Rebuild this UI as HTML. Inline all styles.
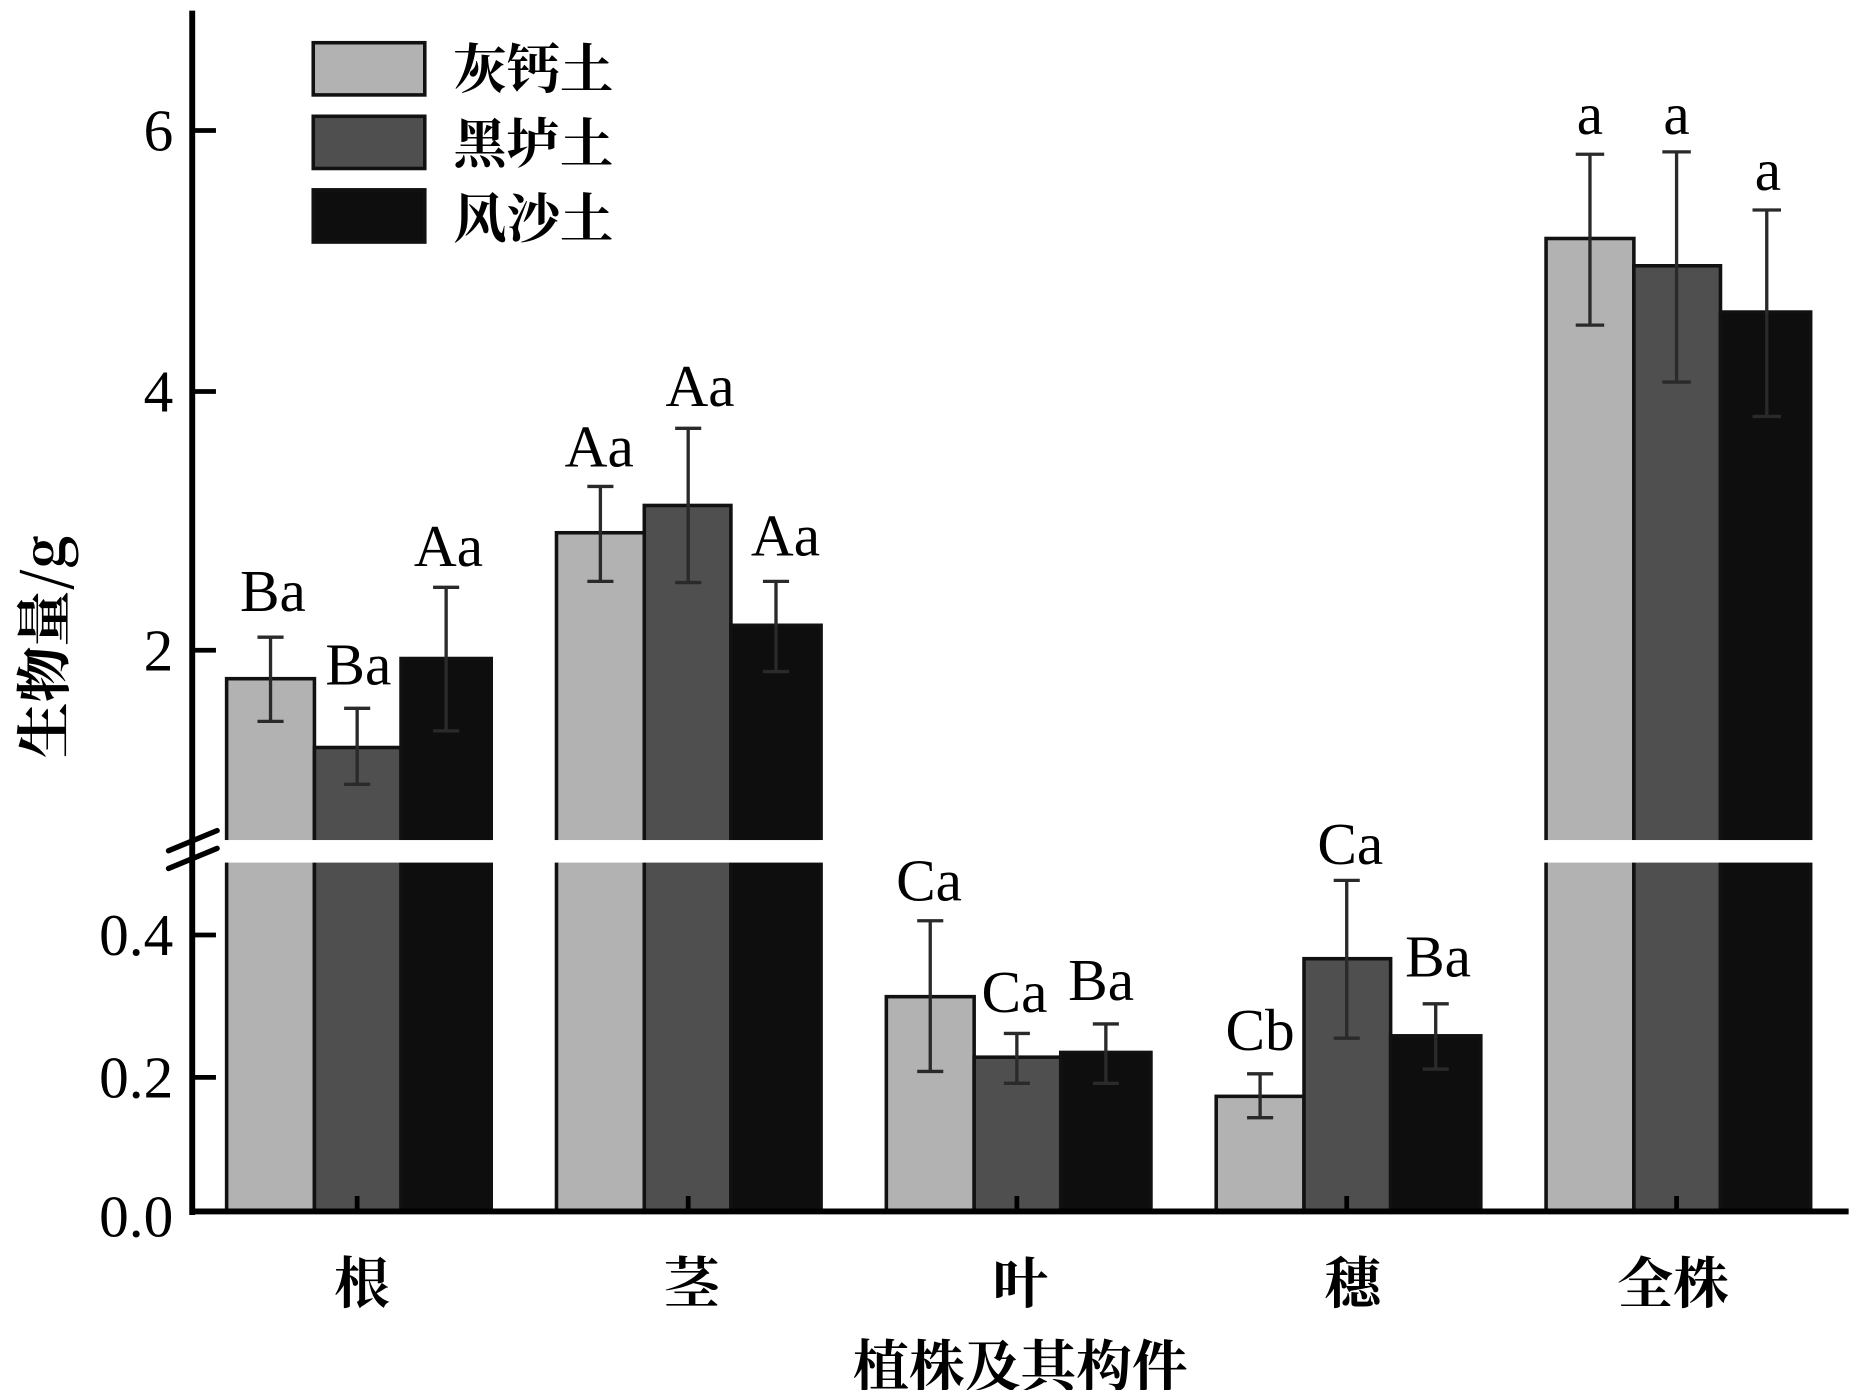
<!DOCTYPE html>
<html><head><meta charset="utf-8"><style>
html,body{margin:0;padding:0;background:#fff;}
svg{display:block;}
text{font-family:"Liberation Serif","Noto Serif CJK SC",serif;fill:#000;}
.cjk{font-family:"Noto Serif CJK SC","WenQuanYi Zen Hei",serif;font-weight:bold;}
</style></head><body>
<svg width="1851" height="1390" viewBox="0 0 1560 1171.5" preserveAspectRatio="none" xmlns="http://www.w3.org/2000/svg">
<rect width="1560" height="1172" fill="#fff"/>
<g stroke="#111" stroke-width="3">
<rect x="191" y="572" width="74" height="449" fill="#b2b2b2"/>
<rect x="265" y="630" width="73" height="391" fill="#4f4f4f"/>
<rect x="338" y="555" width="76" height="466" fill="#0e0e0e"/>
<rect x="469" y="449" width="74" height="572" fill="#b2b2b2"/>
<rect x="543" y="426" width="73" height="595" fill="#4f4f4f"/>
<rect x="616" y="527" width="76" height="494" fill="#0e0e0e"/>
<rect x="747" y="840" width="74" height="181" fill="#b2b2b2"/>
<rect x="821" y="891" width="73" height="130" fill="#4f4f4f"/>
<rect x="894" y="887" width="76" height="134" fill="#0e0e0e"/>
<rect x="1025" y="924" width="74" height="97" fill="#b2b2b2"/>
<rect x="1099" y="808" width="73" height="213" fill="#4f4f4f"/>
<rect x="1172" y="873" width="76" height="148" fill="#0e0e0e"/>
<rect x="1303" y="201" width="74" height="820" fill="#b2b2b2"/>
<rect x="1377" y="224" width="73" height="797" fill="#4f4f4f"/>
<rect x="1450" y="263" width="76" height="758" fill="#0e0e0e"/>
</g>
<g stroke="#2a2a2a" stroke-width="2.8" fill="none">
<path d="M228 537V608M217 537H239M217 608H239"/>
<path d="M301 597V661M290 597H312M290 661H312"/>
<path d="M376 495V616M365 495H387M365 616H387"/>
<path d="M506 410V490M495 410H517M495 490H517"/>
<path d="M580 361V491M569 361H591M569 491H591"/>
<path d="M654 490V566M643 490H665M643 566H665"/>
<path d="M784 776V903M773 776H795M773 903H795"/>
<path d="M857 871V913M846 871H868M846 913H868"/>
<path d="M932 863V913M921 863H943M921 913H943"/>
<path d="M1062 905V942M1051 905H1073M1051 942H1073"/>
<path d="M1135 742V875M1124 742H1146M1124 875H1146"/>
<path d="M1210 846V901M1199 846H1221M1199 901H1221"/>
<path d="M1340 130V274M1328 130H1352M1328 274H1352"/>
<path d="M1413 128V322M1401 128H1425M1401 322H1425"/>
<path d="M1489 177V351M1477 177H1501M1477 351H1501"/>
</g>
<rect x="166" y="708" width="1394" height="19" fill="#fff"/>
<line x1="162" y1="9" x2="162" y2="1024" stroke="#000" stroke-width="5"/>
<line x1="160" y1="1021" x2="1558" y2="1021" stroke="#000" stroke-width="5"/>
<g stroke="#000" stroke-width="4.5" stroke-linecap="round">
<line x1="142" y1="717" x2="183" y2="700"/>
<line x1="142" y1="732" x2="183" y2="715"/>
</g>
<g stroke="#000" stroke-width="4">
<line x1="162" y1="110" x2="182" y2="110"/>
<line x1="162" y1="330" x2="182" y2="330"/>
<line x1="162" y1="548" x2="182" y2="548"/>
<line x1="162" y1="788" x2="182" y2="788"/>
<line x1="162" y1="908" x2="182" y2="908"/>
<line x1="301" y1="1021" x2="301" y2="1008"/>
<line x1="580" y1="1021" x2="580" y2="1008"/>
<line x1="857" y1="1021" x2="857" y2="1008"/>
<line x1="1135" y1="1021" x2="1135" y2="1008"/>
<line x1="1413" y1="1021" x2="1413" y2="1008"/>
</g>
<g font-size="50" text-anchor="end">
<text x="146" y="127">6</text>
<text x="146" y="347">4</text>
<text x="146" y="565">2</text>
<text x="146" y="805">0.4</text>
<text x="146" y="925">0.2</text>
<text x="146" y="1042">0.0</text>
</g>
<g font-size="50" text-anchor="middle">
<text x="230" y="515">Ba</text>
<text x="302" y="577">Ba</text>
<text x="378" y="477">Aa</text>
<text x="505" y="393">Aa</text>
<text x="590" y="342">Aa</text>
<text x="662" y="468">Aa</text>
<text x="783" y="759">Ca</text>
<text x="855" y="853">Ca</text>
<text x="928" y="843">Ba</text>
<text x="1062" y="885">Cb</text>
<text x="1138" y="728">Ca</text>
<text x="1212" y="823">Ba</text>
<text x="1340" y="113">a</text>
<text x="1413" y="113">a</text>
<text x="1490" y="160">a</text>
</g>
<g stroke="#111" stroke-width="3">
<rect x="264" y="36" width="94" height="44" fill="#b2b2b2"/>
<rect x="264" y="98" width="94" height="44" fill="#4f4f4f"/>
<rect x="264" y="160" width="94" height="44" fill="#0e0e0e"/>
</g>
<g font-size="45">
<text class="cjk" x="382" y="74">灰钙土</text>
<text class="cjk" x="382" y="137">黑垆土</text>
<text class="cjk" x="382" y="200">风沙土</text>
</g>
<g font-size="47" text-anchor="middle">
<text class="cjk" x="305" y="1098">根</text>
<text class="cjk" x="583" y="1098">茎</text>
<text class="cjk" x="860" y="1098">叶</text>
<text class="cjk" x="1140" y="1098">穗</text>
<text class="cjk" x="1410" y="1098">全株</text>
<text class="cjk" x="860" y="1168">植株及其构件</text>
</g>
<text class="cjk" font-size="47" text-anchor="middle" transform="translate(54,545) rotate(-90)">生物量/g</text>
</svg>
</body></html>
